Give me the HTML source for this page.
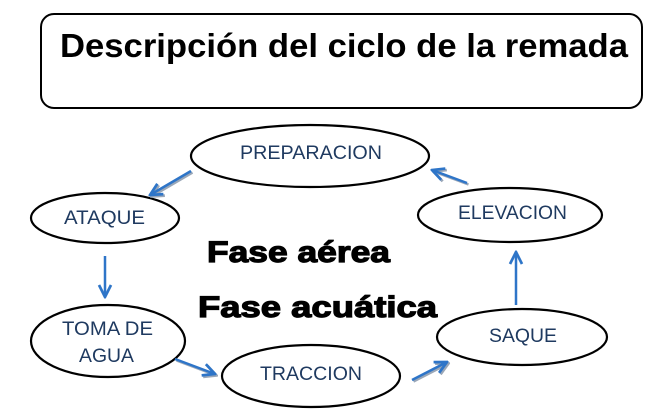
<!DOCTYPE html>
<html><head><meta charset="utf-8"><style>
html,body{margin:0;padding:0;background:#fff;}
svg{display:block;}
</style></head><body>
<svg width="660" height="420" viewBox="0 0 660 420" xmlns="http://www.w3.org/2000/svg">
<defs>
<marker id="ah" viewBox="0 0 10 10" refX="9" refY="5" markerWidth="6" markerHeight="6" orient="auto" markerUnits="strokeWidth">
<path d="M1,1 L9,5 L1,9" fill="none" stroke="#2e75c8" stroke-width="1.8"/>
</marker>
<marker id="ahs" viewBox="0 0 10 10" refX="9" refY="5" markerWidth="6" markerHeight="6" orient="auto" markerUnits="strokeWidth">
<path d="M1,1 L9,5 L1,9" fill="none" stroke="#9aa7b8" stroke-width="1.8"/>
</marker>
</defs>
<rect x="41" y="14" width="601" height="94" rx="13" fill="#fff" stroke="#000" stroke-width="2"/>
<text x="344" y="57" text-anchor="middle" font-family="Liberation Sans, sans-serif" font-weight="bold" font-size="33" textLength="568" lengthAdjust="spacingAndGlyphs">Descripción del ciclo de la remada</text>

<g fill="#fff" stroke="#000" stroke-width="2.2">
<ellipse cx="310" cy="156" rx="119" ry="31"/>
<ellipse cx="105" cy="218" rx="74" ry="25"/>
<ellipse cx="108" cy="341" rx="77" ry="36"/>
<ellipse cx="311" cy="376" rx="89" ry="31"/>
<ellipse cx="510" cy="215" rx="92" ry="27"/>
<ellipse cx="522" cy="337" rx="85" ry="28"/>
</g>

<g font-family="Liberation Sans, sans-serif" font-size="19" fill="#1f3a60" lengthAdjust="spacingAndGlyphs">
<text x="240" y="159" textLength="142" lengthAdjust="spacingAndGlyphs">PREPARACION</text>
<text x="64" y="224" textLength="81" lengthAdjust="spacingAndGlyphs">ATAQUE</text>
<text x="62" y="335" textLength="91" lengthAdjust="spacingAndGlyphs">TOMA DE</text>
<text x="79" y="362" textLength="55" lengthAdjust="spacingAndGlyphs">AGUA</text>
<text x="260" y="380" textLength="102" lengthAdjust="spacingAndGlyphs">TRACCION</text>
<text x="458" y="219" textLength="109" lengthAdjust="spacingAndGlyphs">ELEVACION</text>
<text x="489" y="342" textLength="68" lengthAdjust="spacingAndGlyphs">SAQUE</text>
</g>

<g font-family="Liberation Sans, sans-serif" font-weight="bold" font-size="30" fill="#000" stroke="#000" stroke-width="1.2">
<text x="207" y="262" textLength="183" lengthAdjust="spacingAndGlyphs">Fase aérea</text>
<text x="198" y="317" textLength="239" lengthAdjust="spacingAndGlyphs">Fase acuática</text>
</g>

<g stroke-width="2.5" fill="none">
<g stroke="#9aa7b8" transform="translate(1.5,1.5)">
<line x1="191" y1="171" x2="150" y2="195" marker-end="url(#ahs)"/>
<line x1="175" y1="359" x2="215" y2="374" marker-end="url(#ahs)"/>
<line x1="412" y1="380" x2="447" y2="362" marker-end="url(#ahs)"/>
<line x1="467" y1="183" x2="432" y2="170" marker-end="url(#ahs)"/>
</g>
<g stroke="#2e75c8">
<line x1="191" y1="171" x2="150" y2="195" marker-end="url(#ah)"/>
<line x1="105" y1="256" x2="105" y2="297" marker-end="url(#ah)"/>
<line x1="175" y1="359" x2="215" y2="374" marker-end="url(#ah)"/>
<line x1="412" y1="380" x2="447" y2="362" marker-end="url(#ah)"/>
<line x1="516" y1="305" x2="516" y2="252" marker-end="url(#ah)"/>
<line x1="467" y1="183" x2="432" y2="170" marker-end="url(#ah)"/>
</g>
</g>
</svg>
</body></html>
